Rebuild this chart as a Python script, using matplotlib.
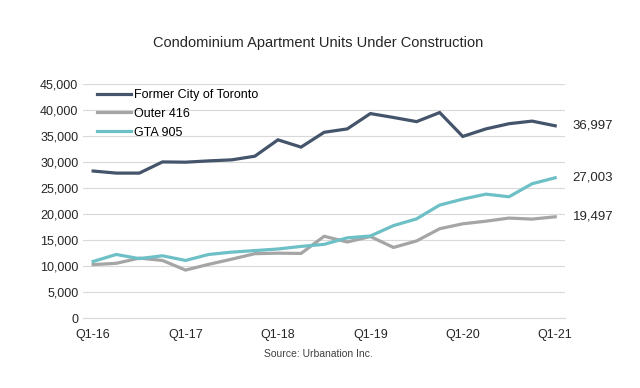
import matplotlib.pyplot as plt
import numpy as np

plt.rcParams['font.family'] = ['Liberation Sans', 'DejaVu Sans']

quarters = ['Q1-16', 'Q2-16', 'Q3-16', 'Q4-16', 'Q1-17', 'Q2-17', 'Q3-17', 'Q4-17',
            'Q1-18', 'Q2-18', 'Q3-18', 'Q4-18', 'Q1-19', 'Q2-19', 'Q3-19', 'Q4-19',
            'Q1-20', 'Q2-20', 'Q3-20', 'Q4-20', 'Q1-21']
toronto = [28300, 27900, 27900, 30050, 30000, 30250, 30450, 31150, 34300, 32900,
           35750, 36400, 39350, 38600, 37800, 39550, 34950, 36400, 37400, 37900, 36997]
outer416 = [10300, 10550, 11550, 11100, 9250, 10350, 11350, 12400, 12500, 12450,
            15750, 14650, 15700, 13600, 14850, 17200, 18150, 18650, 19250, 19050, 19497]
gta905 = [10900, 12250, 11450, 12000, 11100, 12250, 12700, 13000, 13300, 13800,
          14200, 15450, 15800, 17800, 19100, 21750, 22900, 23850, 23350, 25850, 27003]
tick_labels = ['Q1-16', 'Q1-17', 'Q1-18', 'Q1-19', 'Q1-20', 'Q1-21']

series = [
    ('Former City of Toronto', toronto, '#44546A'),
    ('Outer 416', outer416, '#A5A5A5'),
    ('GTA 905', gta905, '#6DC0C6'),
]

fig = plt.figure(figsize=(6.4, 3.88), dpi=100)
ax = fig.add_axes([0.13, 0.18, 0.753, 0.603])

x = np.arange(len(quarters))
for name, vals, col in series:
    ax.plot(x, vals, color=col, lw=2.3, label=name, solid_joinstyle='miter')
    ax.text(x[-1] + 0.75, vals[-1], f'{vals[-1]:,}', va='center', ha='left',
            fontsize=9.5, color='#262626')

ax.set_ylim(0, 45000)
ax.set_xlim(-0.43, 20.43)
ax.set_yticks(np.arange(0, 45001, 5000))
ax.set_yticklabels([f'{v:,}' for v in range(0, 45001, 5000)])
ax.set_xticks(np.arange(0, 21, 4))
ax.set_xticklabels(tick_labels)
ax.yaxis.grid(True, color='#D9D9D9', lw=0.8)
ax.set_axisbelow(True)
for s in ['top', 'right', 'left']:
    ax.spines[s].set_visible(False)
ax.spines['bottom'].set_color('#D9D9D9')
ax.tick_params(length=0, labelsize=9, colors='#262626')
ax.tick_params(axis='x', pad=8)

leg = ax.legend(loc='upper left', bbox_to_anchor=(0.005, 1.028), frameon=False,
                fontsize=9, handlelength=2.7, labelspacing=0.55, handletextpad=0.25)

fig.text(0.497, 0.89, 'Condominium Apartment Units Under Construction',
         ha='center', va='center', fontsize=10.5, color='#262626')
fig.text(0.497, 0.088, 'Source: Urbanation Inc.', ha='center', va='center',
         fontsize=7.5, color='#404040')

fig.savefig('out.png', dpi=100)
